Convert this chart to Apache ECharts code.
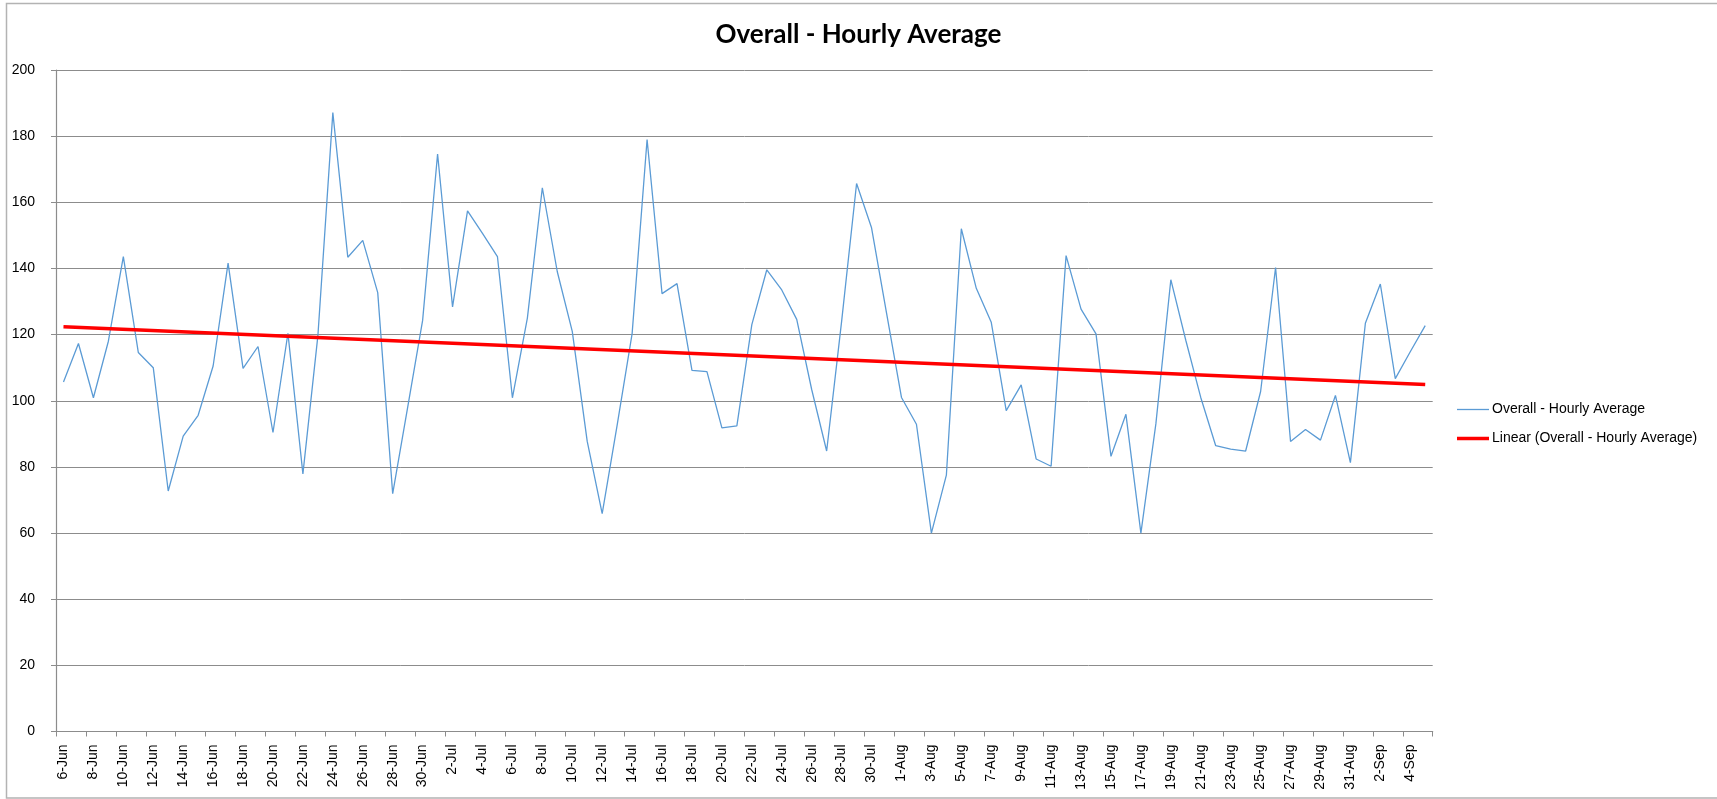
<!DOCTYPE html>
<html>
<head>
<meta charset="utf-8">
<title>Overall - Hourly Average</title>
<script src="https://cdn.jsdelivr.net/npm/echarts@6/dist/echarts.min.js"></script>
<style>
  html, body { margin: 0; padding: 0; background: #fff; }
  #chart { width: 1717px; height: 799px; }
</style>
</head>
<body>
<div id="chart"></div>
<script>
// daily categories, 6 Jun .. 5 Sep
var days = [
  '6-Jun','7-Jun','8-Jun','9-Jun','10-Jun','11-Jun','12-Jun','13-Jun','14-Jun','15-Jun',
  '16-Jun','17-Jun','18-Jun','19-Jun','20-Jun','21-Jun','22-Jun','23-Jun','24-Jun','25-Jun',
  '26-Jun','27-Jun','28-Jun','29-Jun','30-Jun',
  '1-Jul','2-Jul','3-Jul','4-Jul','5-Jul','6-Jul','7-Jul','8-Jul','9-Jul','10-Jul',
  '11-Jul','12-Jul','13-Jul','14-Jul','15-Jul','16-Jul','17-Jul','18-Jul','19-Jul','20-Jul',
  '21-Jul','22-Jul','23-Jul','24-Jul','25-Jul','26-Jul','27-Jul','28-Jul','29-Jul','30-Jul','31-Jul',
  '1-Aug','2-Aug','3-Aug','4-Aug','5-Aug','6-Aug','7-Aug','8-Aug','9-Aug','10-Aug',
  '11-Aug','12-Aug','13-Aug','14-Aug','15-Aug','16-Aug','17-Aug','18-Aug','19-Aug','20-Aug',
  '21-Aug','22-Aug','23-Aug','24-Aug','25-Aug','26-Aug','27-Aug','28-Aug','29-Aug','30-Aug','31-Aug',
  '1-Sep','2-Sep','3-Sep','4-Sep','5-Sep'
];

var hourlyAvg = [
  105.7, 117.3, 100.9, 118.0, 143.6, 114.6, 110.0, 72.7, 89.3, 95.6,
  110.5, 141.6, 109.8, 116.4, 90.4, 120.4, 77.9, 119.6, 187.1, 143.4,
  148.5, 132.7, 71.9, 98.0, 124.3, 174.6, 128.4, 157.4, 150.6, 143.6,
  100.9, 125.0, 164.4, 139.0, 121.0, 87.7, 65.9, 92.6, 120.3, 179.0,
  132.4, 135.4, 109.2, 108.8, 91.8, 92.4, 123.0, 139.6, 133.5, 124.6,
  103.4, 84.8, 124.0, 165.7, 152.3, 126.6, 101.0, 92.9, 60.0, 77.5,
  152.0, 134.0, 123.7, 97.0, 104.8, 82.4, 80.2, 143.9, 127.7, 120.2,
  83.2, 95.9, 60.0, 93.0, 136.6, 118.3, 101.0, 86.4, 85.4, 84.8,
  102.8, 140.3, 87.7, 91.3, 88.1, 101.6, 81.3, 123.4, 135.3, 106.7,
  114.8, 122.7
];

// linear trend line, value at first and last day
var trendEnds = [122.4, 104.9];

var yTicks = [0, 20, 40, 60, 80, 100, 120, 140, 160, 180, 200];

var seriesName = 'Overall - Hourly Average';
var trendName = 'Linear (Overall - Hourly Average)';

var trendData = [
  [days[0], trendEnds[0]],
  [days[days.length - 1], trendEnds[1]]
];

var chart = echarts.init(document.getElementById('chart'));
var lblFont = '"Liberation Sans", Arial, sans-serif';

// one legend per entry so each swatch can have its own line thickness
function legendFor(name, color, thick, top) {
  return {
    orient: 'vertical',
    left: 1457,
    top: top,
    padding: 0,
    icon: 'rect',
    itemWidth: 32,
    itemHeight: thick,
    textStyle: { fontFamily: lblFont, fontSize: 14, color: '#000', padding: [0, 0, 0, -2] },
    data: [{ name: name, itemStyle: { color: color } }]
  };
}

chart.setOption({
  animation: false,
  backgroundColor: '#fff',
  title: {
    text: 'Overall - Hourly Average',
    left: 'center',
    top: 17,
    textStyle: { fontFamily: 'Lato, "Open Sans", sans-serif', fontWeight: 'bold', fontSize: 26, color: '#000' }
  },
  graphic: [{
    type: 'rect',
    shape: { x: 6.5, y: 3.5, width: 1720, height: 794.5 },
    style: { fill: 'none', stroke: '#b3b3b3', lineWidth: 1.5 },
    silent: true
  }],
  legend: [
    legendFor(seriesName, '#5b9bd5', 1.3, 402.5),
    legendFor(trendName, '#ff0000', 3.5, 431.5)
  ],
  grid: { left: 56, top: 70, right: 284.3, bottom: 67.5 },
  xAxis: {
    type: 'category',
    data: days,
    boundaryGap: true,
    axisLine: { lineStyle: { color: '#8c8c8c', width: 1.2 } },
    axisTick: { show: true, interval: 1, length: 5, lineStyle: { color: '#8c8c8c' } },
    axisLabel: {
      interval: 1,
      rotate: 90,
      margin: 13,
      fontFamily: lblFont,
      fontSize: 14,
      color: '#000'
    },
    splitLine: { show: false }
  },
  yAxis: {
    type: 'value',
    min: yTicks[0],
    max: yTicks[yTicks.length - 1],
    interval: yTicks[1] - yTicks[0],
    axisLine: { show: true, lineStyle: { color: '#8c8c8c', width: 1.2 } },
    axisTick: { show: true, length: 5, lineStyle: { color: '#8c8c8c' } },
    axisLabel: { margin: 21, fontFamily: lblFont, fontSize: 14, color: '#000' },
    splitLine: { lineStyle: { color: '#8c8c8c', width: 1 } }
  },
  series: [
    {
      name: seriesName,
      type: 'line',
      data: hourlyAvg,
      symbol: 'none',
      lineStyle: { color: '#5b9bd5', width: 1.3 },
      itemStyle: { color: '#5b9bd5' },
      z: 3
    },
    {
      name: trendName,
      type: 'line',
      data: trendData,
      symbol: 'none',
      lineStyle: { color: '#ff0000', width: 3.5 },
      itemStyle: { color: '#ff0000' },
      z: 4
    }
  ]
});
</script>
</body>
</html>
